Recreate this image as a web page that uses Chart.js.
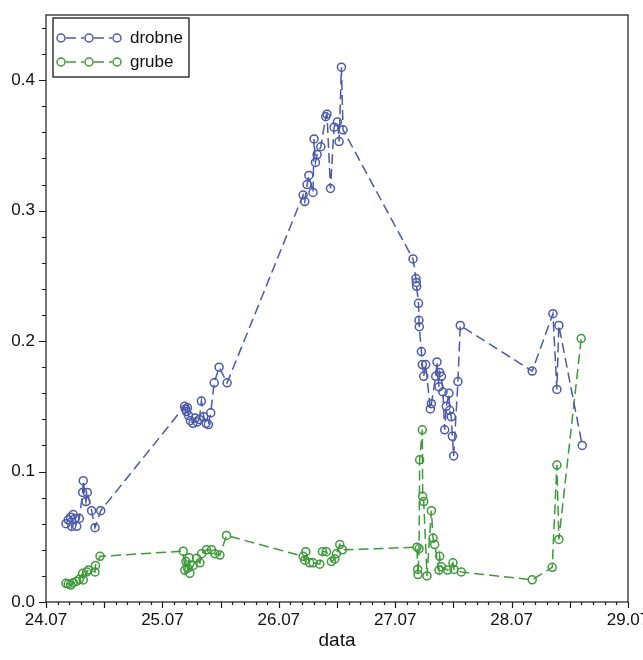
<!DOCTYPE html>
<html>
<head>
<meta charset="utf-8">
<script src="https://cdn.jsdelivr.net/npm/chart.js@4.4.1/dist/chart.umd.min.js"></script>
<style>
  html, body { margin: 0; padding: 0; background: #fff; }
</style>
</head>
<body>
<canvas id="chart" width="643" height="660"></canvas>
<script>
// time in days of July (24.5 = 24.07 noon)
const drobneT = [24.172, 24.191, 24.212, 24.221, 24.234, 24.249, 24.264, 24.286, 24.315, 24.320, 24.343, 24.355, 24.392, 24.421, 24.470,
  25.190, 25.199, 25.207, 25.215, 25.224, 25.240, 25.262, 25.283, 25.300, 25.318, 25.335, 25.355, 25.375, 25.395, 25.415, 25.445, 25.487, 25.556,
  26.209, 26.223, 26.243, 26.258, 26.294, 26.303, 26.315, 26.329, 26.361, 26.403, 26.414, 26.444, 26.475, 26.504, 26.518, 26.538, 26.552,
  27.153, 27.178, 27.181, 27.184, 27.200, 27.204, 27.207, 27.225, 27.233, 27.245, 27.262, 27.302, 27.311, 27.348, 27.359, 27.376, 27.382,
  27.397, 27.410, 27.425, 27.439, 27.462, 27.468, 27.482, 27.491, 27.502, 27.539, 27.559, 28.177, 28.355, 28.389, 28.406, 28.607];
const drobneV = [0.060, 0.063, 0.065, 0.058, 0.067, 0.064, 0.058, 0.064, 0.084, 0.093, 0.077, 0.084, 0.070, 0.057, 0.070,
  0.150, 0.148, 0.146, 0.149, 0.143, 0.139, 0.137, 0.141, 0.138, 0.140, 0.154, 0.142, 0.137, 0.136, 0.145, 0.168, 0.180, 0.168,
  0.312, 0.307, 0.320, 0.327, 0.314, 0.355, 0.337, 0.343, 0.349, 0.372, 0.374, 0.317, 0.364, 0.368, 0.353, 0.410, 0.362,
  0.263, 0.248, 0.245, 0.242, 0.229, 0.216, 0.211, 0.192, 0.182, 0.173, 0.182, 0.148, 0.152, 0.173, 0.184, 0.165, 0.176,
  0.173, 0.161, 0.132, 0.150, 0.160, 0.147, 0.142, 0.127, 0.112, 0.169, 0.212, 0.177, 0.221, 0.163, 0.212, 0.120];

const grubeT = [24.172, 24.191, 24.212, 24.234, 24.264, 24.286, 24.315, 24.320, 24.350, 24.364, 24.421, 24.425, 24.464,
  25.179, 25.193, 25.202, 25.216, 25.230, 25.236, 25.264, 25.294, 25.322, 25.337, 25.379, 25.422, 25.451, 25.494, 25.551,
  26.209, 26.223, 26.232, 26.266, 26.294, 26.352, 26.375, 26.409, 26.452, 26.481, 26.495, 26.524, 26.547,
  27.187, 27.193, 27.196, 27.205, 27.210, 27.233, 27.236, 27.245, 27.273, 27.311, 27.325, 27.339, 27.376, 27.382, 27.397,
  27.450, 27.496, 27.505, 27.568, 28.177, 28.349, 28.389, 28.406, 28.598];
const grubeV = [0.0143, 0.0138, 0.013, 0.0148, 0.016, 0.0174, 0.022, 0.0169, 0.023, 0.0245, 0.023, 0.028, 0.035,
  0.039, 0.0245, 0.031, 0.026, 0.034, 0.022, 0.028, 0.0335, 0.030, 0.037, 0.040, 0.040, 0.037, 0.036, 0.051,
  0.035, 0.032, 0.0386, 0.030, 0.030, 0.029, 0.0386, 0.0386, 0.031, 0.033, 0.037, 0.044, 0.040,
  0.042, 0.025, 0.021, 0.041, 0.109, 0.132, 0.081, 0.077, 0.020, 0.070, 0.049, 0.044, 0.0245, 0.035, 0.027,
  0.0245, 0.030, 0.025, 0.023, 0.017, 0.0266, 0.105, 0.048, 0.202];

const xTickLabels = ["24.07", "25.07", "26.07", "27.07", "28.07", "29.07"];
const seriesNames = ["drobne", "grube"];

const FONT = "'Liberation Sans Narrow', 'Liberation Sans', Arial, sans-serif";
const BLUE = "#4b5aad";
const GREEN = "#3c9a38";
const DASH = [10, 5];

function pts(ts, vs) {
  return ts.map((t, i) => ({ x: t, y: vs[i] }));
}

// frame, minor/major ticks and the boxed legend in the upper left corner
const framePlugin = {
  id: "frame",
  afterDraw(chart) {
    const { ctx, chartArea: a, scales } = chart;
    const x = scales.x, y = scales.y;
    ctx.save();
    ctx.strokeStyle = "#1a1a1a";
    ctx.lineWidth = 1.2;
    ctx.strokeRect(a.left, a.top, a.right - a.left, a.bottom - a.top);

    ctx.beginPath();
    for (let i = 0; i <= 50; i++) {
      const px = Math.round(x.getPixelForValue(24 + i / 10)) + 0.5;
      const len = i % 5 === 0 ? 6 : 3;
      ctx.moveTo(px, a.bottom);
      ctx.lineTo(px, a.bottom + len);
    }
    for (let i = 0; i <= 22; i++) {
      const py = Math.round(y.getPixelForValue(i * 0.02)) + 0.5;
      const len = i % 5 === 0 ? 7 : 4;
      ctx.moveTo(a.left, py);
      ctx.lineTo(a.left - len, py);
    }
    ctx.stroke();

    // legend
    const lx = a.left + 7, ly = a.top + 3;
    ctx.lineWidth = 1.3;
    ctx.strokeRect(lx, ly, 136, 59);
    const colors = [BLUE, GREEN];
    seriesNames.forEach((name, i) => {
      const cy = ly + 20 + i * 24;
      const cxs = [lx + 8, lx + 36, lx + 64];
      ctx.strokeStyle = colors[i];
      ctx.lineWidth = 1.5;
      ctx.setLineDash(DASH);
      ctx.beginPath();
      ctx.moveTo(cxs[0] + 5, cy);
      ctx.lineTo(cxs[1] - 5, cy);
      ctx.moveTo(cxs[1] + 5, cy);
      ctx.lineTo(cxs[2] - 5, cy);
      ctx.stroke();
      ctx.setLineDash([]);
      cxs.forEach((cx) => {
        ctx.beginPath();
        ctx.arc(cx, cy, 4, 0, Math.PI * 2);
        ctx.stroke();
      });
      ctx.fillStyle = "#111";
      ctx.font = "17px " + FONT;
      ctx.textBaseline = "middle";
      ctx.textAlign = "left";
      ctx.fillText(name, lx + 77, cy);
    });
    ctx.restore();
  },
};

const ctx = document.getElementById("chart").getContext("2d");

new Chart(ctx, {
  type: "scatter",
  data: {
    datasets: [
      {
        label: seriesNames[0],
        data: pts(drobneT, drobneV),
        showLine: true,
        borderColor: BLUE,
        borderWidth: 1.5,
        borderDash: DASH,
        pointRadius: 4,
        pointBorderWidth: 1.5,
        pointBorderColor: BLUE,
        pointBackgroundColor: "rgba(0,0,0,0)",
        pointHoverRadius: 4,
      },
      {
        label: seriesNames[1],
        data: pts(grubeT, grubeV),
        showLine: true,
        borderColor: GREEN,
        borderWidth: 1.5,
        borderDash: DASH,
        pointRadius: 4,
        pointBorderWidth: 1.5,
        pointBorderColor: GREEN,
        pointBackgroundColor: "rgba(0,0,0,0)",
        pointHoverRadius: 4,
      },
    ],
  },
  options: {
    responsive: false,
    animation: false,
    layout: { padding: { left: 0, top: 15, right: 15, bottom: 0 } },
    plugins: {
      legend: { display: false },
      tooltip: { enabled: false },
    },
    scales: {
      x: {
        type: "linear",
        min: 24,
        max: 29,
        grid: { display: false, drawTicks: false },
        border: { display: false },
        ticks: {
          stepSize: 1,
          maxRotation: 0,
          autoSkip: false,
          padding: 8,
          color: "#111",
          font: { family: FONT, size: 17 },
          callback: (v) => xTickLabels[Math.round(v) - 24] || "",
        },
        title: {
          display: true,
          text: "data",
          color: "#111",
          font: { family: FONT, size: 19 },
          padding: { top: 0, bottom: 8 },
        },
        afterFit(s) {
          s.height = 58;
          s.paddingLeft = 0;
          s.paddingRight = 0;
        },
      },
      y: {
        type: "linear",
        min: 0,
        max: 0.45,
        grid: { display: false, drawTicks: false },
        border: { display: false },
        ticks: {
          stepSize: 0.1,
          padding: 11,
          color: "#111",
          font: { family: FONT, size: 17 },
          callback: (v) => (Math.abs(v * 10 - Math.round(v * 10)) < 1e-6 ? v.toFixed(1) : ""),
        },
        afterFit(s) {
          s.width = 46;
          s.paddingTop = 0;
          s.paddingBottom = 0;
        },
      },
    },
  },
  plugins: [framePlugin],
});
</script>
</body>
</html>
